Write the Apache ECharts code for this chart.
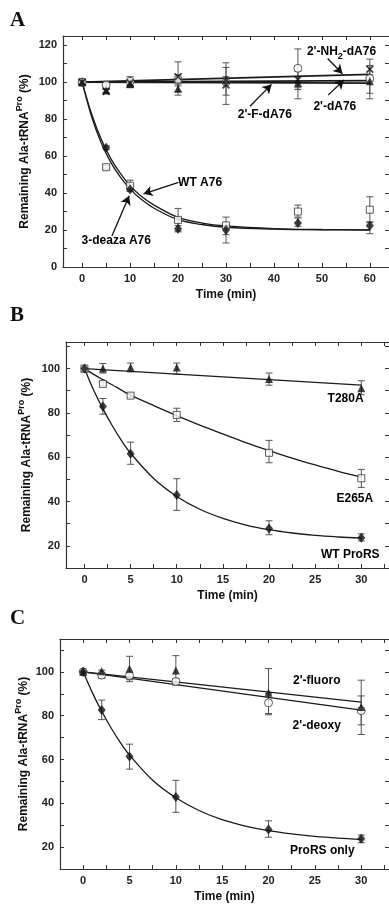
<!DOCTYPE html>
<html>
<head>
<meta charset="utf-8">
<script src="https://cdn.jsdelivr.net/npm/echarts@6/dist/echarts.min.js"></script>
<style>
html,body{margin:0;padding:0;background:#fff;}
#chart{width:389px;height:904px;}
</style>
</head>
<body>
<div id="chart"></div>
<script>
// ---------------- Panel A data ----------------
const A_t = [0, 5, 10, 20, 30, 45, 60];
const A_wt = [100, 54, 44, 25.5, 22.5, 30, 31];
const A_wtLo = [100, 53, 41, 19, 13, 27, 24];
const A_wtHi = [100, 55, 47, 31.7, 27, 33.5, 38];
const A_deaza = [100, 64.5, 42, 20.7, 20, 23.8, 22.3];
const A_deazaLo = [100, 63.5, 41, 19.5, 17.5, 22, 18];
const A_deazaHi = [100, 65.5, 43, 22.5, 22.5, 26.5, 24.5];
const A_nh2 = [100, 95, 99.5, 103, 98.5, 101.5, 107];
const A_nh2Lo = [100, 94, 97.5, 95, 88, 97, 101];
const A_nh2Hi = [100, 96, 101.5, 111, 110.5, 106, 112.5];
const A_dA = [100, 98.5, 100.5, 101.5, 100, 107.5, 102];
const A_dALo = [100, 97.5, 98, 98, 93, 96, 94];
const A_dAHi = [100, 99.5, 103, 104, 108, 118, 109];
const A_F = [100, 95.5, 99, 96.5, 101.5, 99.5, 100.5];
const A_FLo = [100, 94.5, 97, 93, 99, 91, 91];
const A_FHi = [100, 96.5, 101, 99, 103, 103, 104];
// fitted curves
const A_fitT = [0, 2, 4, 6, 8, 10, 12, 15, 20, 25, 30, 40, 50, 60];
const A_fitWT = [100, 82.5, 69, 58.5, 50.5, 44, 39, 33.5, 26.8, 23.8, 22.2, 20.8, 20.3, 20.1];
const A_fitDeaza = [100, 81, 67, 56.5, 48.5, 42.3, 37.3, 31.8, 25.6, 23, 21.5, 20.5, 20.1, 20];
const A_lineT = [0, 60];
const A_fitNH2 = [100, 104.2];
const A_fitDA = [100, 100.8];
const A_fitF = [100, 99.5];
const A_xTicks = [0, 5, 10, 15, 20, 25, 30, 35, 40, 45, 50, 55, 60];
const A_xLabels = [0, 10, 20, 30, 40, 50, 60];
const A_yTicks = [0, 10, 20, 30, 40, 50, 60, 70, 80, 90, 100, 110, 120];
const A_yLabels = [0, 20, 40, 60, 80, 100, 120];
const A_notes = [
  [54.1, 116.4, "{m|2'-NH}{sub|2}{m|-dA76}"],
  [52.7, 86.8, "{m|2'-dA76}"],
  [38.1, 82.2, "{m|2'-F-dA76}"],
  [24.6, 45.8, "{m|WT A76}"],
  [7.1, 14.3, "{m|3-deaza A76}"]
];

// ---------------- Panel B data ----------------
const B_t = [0, 2, 5, 10, 20, 30];
const B_T280A = [100, 100, 100.5, 100.5, 95.3, 91.1];
const B_T280ALo = [100, 98, 98.5, 97.5, 92.5, 88.2];
const B_T280AHi = [100, 102.3, 102.5, 102.5, 98, 94.5];
const B_E265A = [100, 93.1, 87.8, 79.1, 62, 50.5];
const B_E265ALo = [100, 92.3, 87, 76.1, 57.5, 46.4];
const B_E265AHi = [100, 93.9, 88.7, 82.1, 67.6, 54.5];
const B_WT = [100, 82.9, 61.6, 43, 27.8, 23.6];
const B_WTLo = [100, 79.4, 56.8, 36, 25, 22.2];
const B_WTHi = [100, 86.5, 66.8, 50.3, 31.3, 25.4];
const B_lineT = [0, 30];
const B_fitT280A = [100, 92.5];
const B_fitT = [0, 1, 2, 3, 4, 5, 7.5, 10, 12.5, 15, 17.5, 20, 22.5, 25, 27.5, 30];
const B_fitE265A = [100, 97.4, 95, 92.7, 90.3, 88, 83.3, 78.8, 74.5, 70.5, 66.6, 63, 59.6, 56.5, 53.6, 51];
const B_fitWT = [100, 90.2, 81.8, 74.3, 67.6, 61.8, 50.4, 42.3, 36.5, 32.4, 29.4, 27.3, 25.8, 24.7, 24, 23.5];
const B_xTicks = [0, 2.5, 5, 7.5, 10, 12.5, 15, 17.5, 20, 22.5, 25, 27.5, 30, 32.5];
const B_xLabels = [0, 5, 10, 15, 20, 25, 30];
const B_yTicks = [20, 30, 40, 50, 60, 70, 80, 90, 100, 110];
const B_yLabels = [20, 40, 60, 80, 100];
const B_notes = [
  [28.3, 86.3, "{m|T280A}"],
  [29.3, 41.2, "{m|E265A}"],
  [28.8, 15.9, "{m|WT ProRS}"]
];

// ---------------- Panel C data ----------------
const C_t = [0, 2, 5, 10, 20, 30];
const C_fluoro = [100, 100.3, 101.4, 100.6, 90.5, 84];
const C_fluoroLo = [100, 99.3, 96.4, 95, 80.4, 71.4];
const C_fluoroHi = [100, 100.8, 107.1, 107.4, 101.5, 96.2];
const C_deoxy = [100, 98.5, 98.3, 95.6, 85.9, 82.3];
const C_deoxyLo = [100, 97, 95.5, 94, 81, 75.8];
const C_deoxyHi = [100, 99.5, 99.5, 97, 90, 89];
const C_prors = [100, 82.6, 61.4, 42.9, 28, 23.8];
const C_prorsLo = [100, 78.2, 55.6, 35.9, 24.5, 22];
const C_prorsHi = [100, 87.1, 67, 50.5, 32, 25.5];
const C_lineT = [0, 30];
const C_fitFluoro = [100, 86.2];
const C_fitDeoxy = [100, 82.5];
const C_fitT = [0, 1, 2, 3, 4, 5, 7.5, 10, 12.5, 15, 17.5, 20, 22.5, 25, 27.5, 30];
const C_fitProRS = [100, 90.4, 82, 74.5, 67.8, 62, 50.5, 42.5, 36.7, 32.5, 29.6, 27.5, 26, 24.9, 24.1, 23.5];
const C_xTicks = [0, 2.5, 5, 7.5, 10, 12.5, 15, 17.5, 20, 22.5, 25, 27.5, 30, 32.5];
const C_xLabels = [0, 5, 10, 15, 20, 25, 30];
const C_yTicks = [20, 30, 40, 50, 60, 70, 80, 90, 100, 110];
const C_yLabels = [20, 40, 60, 80, 100];
const C_notes = [
  [25.2, 95.9, "{m|2'-fluoro}"],
  [25.2, 75.4, "{m|2'-deoxy}"],
  [25.8, 18.5, "{m|ProRS only}"]
];

// ---------------- helpers ----------------
const FONT = '"Liberation Sans", Arial, Helvetica, sans-serif';
const AX = '#333';
const zip = (xs, ys) => xs.map((x, i) => [x, ys[i]]);
const errData = (xs, lo, hi) => xs.map((x, i) => [x, lo[i], hi[i]]).filter(d => d[1] !== d[2]);

function renderErr(params, api) {
  const x = api.value(0);
  const top = api.coord([x, api.value(2)]);
  const bot = api.coord([x, api.value(1)]);
  const w = 3.5;
  const style = { stroke: '#555', lineWidth: 1, fill: null };
  return {
    type: 'group',
    children: [
      { type: 'line', shape: { x1: top[0], y1: top[1], x2: bot[0], y2: bot[1] }, style },
      { type: 'line', shape: { x1: top[0] - w, y1: top[1], x2: top[0] + w, y2: top[1] }, style },
      { type: 'line', shape: { x1: bot[0] - w, y1: bot[1], x2: bot[0] + w, y2: bot[1] }, style }
    ]
  };
}
function errSeries(gi, xs, lo, hi) {
  return {
    type: 'custom', xAxisIndex: gi * 2, yAxisIndex: gi * 2, z: 2,
    renderItem: renderErr, encode: { x: 0, y: [1, 2] },
    data: errData(xs, lo, hi), silent: true
  };
}
const SYM = {
  diamond: { symbol: 'diamond', symbolSize: [8, 10], itemStyle: { color: '#111' } },
  square: { symbol: 'rect', symbolSize: 7, itemStyle: { color: '#fff', borderColor: '#333', borderWidth: 1 } },
  circle: { symbol: 'circle', symbolSize: 8, itemStyle: { color: '#fff', borderColor: '#333', borderWidth: 1 } },
  triangle: { symbol: 'triangle', symbolSize: 8, itemStyle: { color: '#111' } },
  cross: { symbol: 'path://M0,1.5 L1.5,0 L5,3.5 L8.5,0 L10,1.5 L6.5,5 L10,8.5 L8.5,10 L5,6.5 L1.5,10 L0,8.5 L3.5,5 Z', symbolSize: 8, itemStyle: { color: '#111' } }
};
function pts(gi, xs, ys, kind) {
  return Object.assign({
    type: 'scatter', xAxisIndex: gi * 2, yAxisIndex: gi * 2, z: 5,
    data: zip(xs, ys), silent: true
  }, JSON.parse(JSON.stringify(SYM[kind])));
}
function fit(gi, xs, ys, width, extra) {
  return Object.assign({
    type: 'line', xAxisIndex: gi * 2, yAxisIndex: gi * 2, z: 3,
    data: zip(xs, ys), smooth: xs.length > 2 ? 0.35 : false, showSymbol: false, silent: true,
    lineStyle: { color: '#1a1a1a', width: width }
  }, extra || {});
}
function arrows(list) {
  return {
    silent: true, symbol: ['none', 'arrow'], symbolSize: [8, 9],
    label: { show: false },
    lineStyle: { color: '#111', width: 1.3, type: 'solid' },
    data: list.map(a => [{ coord: a[0] }, { coord: a[1] }])
  };
}
const RICH = {
  m: { fontFamily: FONT, fontWeight: 'bold', fontSize: 12, fill: '#000', lineHeight: 18, verticalAlign: 'middle' },
  sub: { fontFamily: FONT, fontWeight: 'bold', fontSize: 9, fill: '#000', lineHeight: 9, verticalAlign: 'bottom' }
};

// axes
function xAxes(gi, min, max, ticks, labels) {
  const base = {
    type: 'value', gridIndex: gi, min: min, max: max,
    splitLine: { show: false },
    axisLine: { show: true, onZero: false, lineStyle: { color: AX, width: 1.2 } },
    axisTick: { show: true, inside: true, length: 4, customValues: ticks, lineStyle: { color: AX, width: 1 } }
  };
  const bottom = Object.assign({}, base, {
    position: 'bottom',
    axisLabel: { show: true, customValues: labels, margin: 6, fontFamily: FONT, fontWeight: 'bold', fontSize: 11, color: '#222' },
    name: 'Time (min)', nameLocation: 'middle', nameGap: 22, nameMoveOverlap: false,
    nameTextStyle: { fontFamily: FONT, fontWeight: 'bold', fontSize: 12, color: '#111' }
  });
  const top = Object.assign({}, base, { position: 'top', axisLabel: { show: false } });
  return [bottom, top];
}
function yAxes(gi, min, max, ticks, labels, gap) {
  const base = {
    type: 'value', gridIndex: gi, min: min, max: max,
    splitLine: { show: false },
    axisTick: { show: true, inside: true, length: 4, customValues: ticks, lineStyle: { color: AX, width: 1 } }
  };
  const left = Object.assign({}, base, {
    position: 'left',
    axisLine: { show: true, onZero: false, lineStyle: { color: AX, width: 1.2 } },
    axisLabel: { show: true, customValues: labels, margin: 6, fontFamily: FONT, fontWeight: 'bold', fontSize: 11, color: '#222' },
    name: '{m|Remaining Ala-tRNA}{s|Pro}{m| (%)}', nameLocation: 'middle', nameGap: gap, nameMoveOverlap: false,
    nameTextStyle: {
      rich: {
        m: { fontFamily: FONT, fontWeight: 'bold', fontSize: 12, color: '#111', lineHeight: 20, verticalAlign: 'middle' },
        s: { fontFamily: FONT, fontWeight: 'bold', fontSize: 9, color: '#111', lineHeight: 9, verticalAlign: 'top' }
      }
    }
  });
  const right = Object.assign({}, base, {
    position: 'right',
    axisLine: { show: false, onZero: false },
    axisLabel: { show: false }
  });
  return [left, right];
}

const chart = echarts.init(document.getElementById('chart'), null, { renderer: 'canvas' });
const LETTER_FONT = 'bold 21px "Liberation Serif", "Times New Roman", serif';

const option = {
  animation: false,
  backgroundColor: '#fff',
  grid: [
    { left: 63, top: 36, width: 326.4, height: 231 },
    { left: 66, top: 342, width: 324.5, height: 226 },
    { left: 60, top: 639, width: 330, height: 230.5 }
  ],
  xAxis: [].concat(
    xAxes(0, -4, 64, A_xTicks, A_xLabels),
    xAxes(1, -2, 33, B_xTicks, B_xLabels),
    xAxes(2, -2.5, 33, C_xTicks, C_xLabels)
  ),
  yAxis: [].concat(
    yAxes(0, 0, 125, A_yTicks, A_yLabels, 28),
    yAxes(1, 10, 112, B_yTicks, B_yLabels, 29),
    yAxes(2, 10, 115, C_yTicks, C_yLabels, 26)
  ),
  series: [
    // ---- Panel A ----
    errSeries(0, A_t, A_wtLo, A_wtHi),
    errSeries(0, A_t, A_deazaLo, A_deazaHi),
    errSeries(0, A_t, A_nh2Lo, A_nh2Hi),
    errSeries(0, A_t, A_dALo, A_dAHi),
    errSeries(0, A_t, A_FLo, A_FHi),
    fit(0, A_fitT, A_fitWT, 1.3),
    fit(0, A_fitT, A_fitDeaza, 1.3),
    fit(0, A_lineT, A_fitNH2, 1.8, {
      markLine: arrows([
        [[51.2, 112.8], [54.3, 104.6]],
        [[51.3, 93], [54.6, 101.2]],
        [[35, 87], [39.5, 98.8]],
        [[20.1, 45.8], [12.8, 39.6]],
        [[6.2, 16.8], [9.8, 38.5]]
      ])
    }),
    fit(0, A_lineT, A_fitDA, 1.8),
    fit(0, A_lineT, A_fitF, 1.8),
    pts(0, A_t, A_wt, 'square'),
    pts(0, A_t, A_deaza, 'diamond'),
    pts(0, A_t, A_dA, 'circle'),
    pts(0, A_t, A_F, 'triangle'),
    pts(0, A_t, A_nh2, 'cross'),
    // ---- Panel B ----
    errSeries(1, B_t, B_T280ALo, B_T280AHi),
    errSeries(1, B_t, B_E265ALo, B_E265AHi),
    errSeries(1, B_t, B_WTLo, B_WTHi),
    fit(1, B_lineT, B_fitT280A, 1.3),
    fit(1, B_fitT, B_fitE265A, 1.3),
    fit(1, B_fitT, B_fitWT, 1.3),
    pts(1, B_t, B_T280A, 'triangle'),
    pts(1, B_t, B_E265A, 'square'),
    pts(1, B_t, B_WT, 'diamond'),
    // ---- Panel C ----
    errSeries(2, C_t, C_fluoroLo, C_fluoroHi),
    errSeries(2, C_t, C_deoxyLo, C_deoxyHi),
    errSeries(2, C_t, C_prorsLo, C_prorsHi),
    fit(2, C_lineT, C_fitFluoro, 1.3),
    fit(2, C_lineT, C_fitDeoxy, 1.3),
    fit(2, C_fitT, C_fitProRS, 1.3),
    pts(2, C_t, C_deoxy, 'circle'),
    pts(2, C_t, C_fluoro, 'triangle'),
    pts(2, C_t, C_prors, 'diamond')
  ]
};
chart.setOption(option);

// panel letters and curve labels (labels placed through the grids' own scales)
const graphics = [
  { type: 'text', left: 10, top: 10, style: { text: 'A', font: LETTER_FONT, fill: '#111' } },
  { type: 'text', left: 10, top: 305, style: { text: 'B', font: LETTER_FONT, fill: '#111' } },
  { type: 'text', left: 10, top: 608, style: { text: 'C', font: LETTER_FONT, fill: '#111' } }
];
[A_notes, B_notes, C_notes].forEach((list, gi) => {
  list.forEach(n => {
    const p = chart.convertToPixel({ gridIndex: gi }, [n[0], n[1]]);
    graphics.push({
      type: 'text', x: p[0], y: p[1], z: 100,
      style: { text: n[2], rich: RICH, align: 'center', verticalAlign: 'middle', fill: '#000' }
    });
  });
});
chart.setOption({ graphic: graphics });
</script>
</body>
</html>
